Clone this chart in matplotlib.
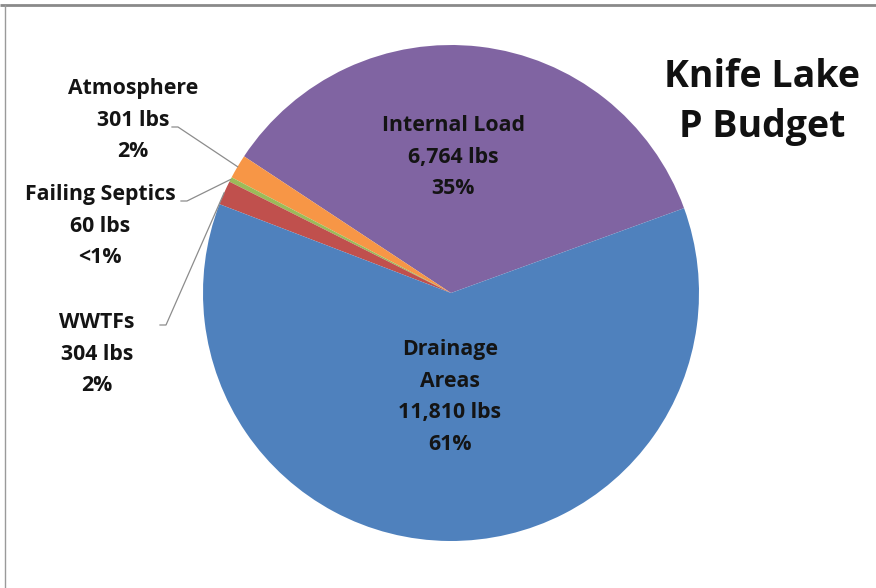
import numpy as np
import matplotlib.pyplot as plt
from matplotlib.lines import Line2D

plt.rcParams['font.family'] = ['Open Sans', 'DejaVu Sans']

# slice data, drawn counter-clockwise from the right side
sources = ['Internal Load', 'Atmosphere', 'Failing Septics', 'WWTFs', 'Drainage\nAreas']
loads = [6764, 301, 60, 304, 11810]
pct_labels = ['35%', '2%', '<1%', '2%', '61%']
colors = ['#8064A2', '#F79646', '#9BBB59', '#C0504D', '#4F81BD']

W, H = 876, 588
cx, cy, R = 451, 293, 248

fig = plt.figure(figsize=(W / 100, H / 100), dpi=100)
ax = fig.add_axes([0, 0, 1, 1])

wedges, _ = ax.pie(loads, colors=colors, startangle=20, counterclock=True,
                   radius=1.0, center=(0, 0),
                   wedgeprops=dict(linewidth=0))
ax.set_xlim(-cx / R, (W - cx) / R)
ax.set_ylim(-(H - cy) / R, cy / R)
ax.set_aspect('auto')
ax.axis('off')


def px(x, y):
    return (x - cx) / R, (cy - y) / R


def lbl(i):
    return f'{sources[i]}\n{loads[i]:,} lbs\n{pct_labels[i]}'


txt_kw = dict(ha='center', va='center', fontsize=15.3, fontweight='bold',
              color='#141414', linespacing=1.68)

# labels inside the two big slices
ax.text(*px(453, 157), lbl(0), **txt_kw)
ax.text(*px(450, 397), lbl(4), **txt_kw)

# outside labels with leader lines
outside = [(1, (133, 120), (172, 127)),
           (2, (100, 226), (181, 201)),
           (3, (97, 354), (160, 325))]
for i, (tx, ty), (sx, sy) in outside:
    ax.text(*px(tx, ty), lbl(i), **txt_kw)
    w = wedges[i]
    mid = np.deg2rad((w.theta1 + w.theta2) / 2)
    ex, ey = np.cos(mid), np.sin(mid)
    x0, y0 = px(sx, sy)
    x1, y1 = px(sx + 6, sy)
    ax.add_line(Line2D([x0, x1, ex], [y0, y1, ey], color='#8c8c8c', lw=0.9))

ax.text(*px(762, 102), 'Knife Lake\nP Budget', ha='center', va='center',
        fontsize=27, fontweight='bold', color='#111111', linespacing=1.38)

# frame edges visible in the screenshot
fig.add_artist(Line2D([0, 1], [1 - 5 / H, 1 - 5 / H], color='#8a8a8a', lw=2,
                      solid_capstyle='butt'))
fig.add_artist(Line2D([5 / W, 5 / W], [0, 1 - 5 / H], color='#9a9a9a', lw=1))

fig.savefig('out.png', dpi=100, facecolor='white')
